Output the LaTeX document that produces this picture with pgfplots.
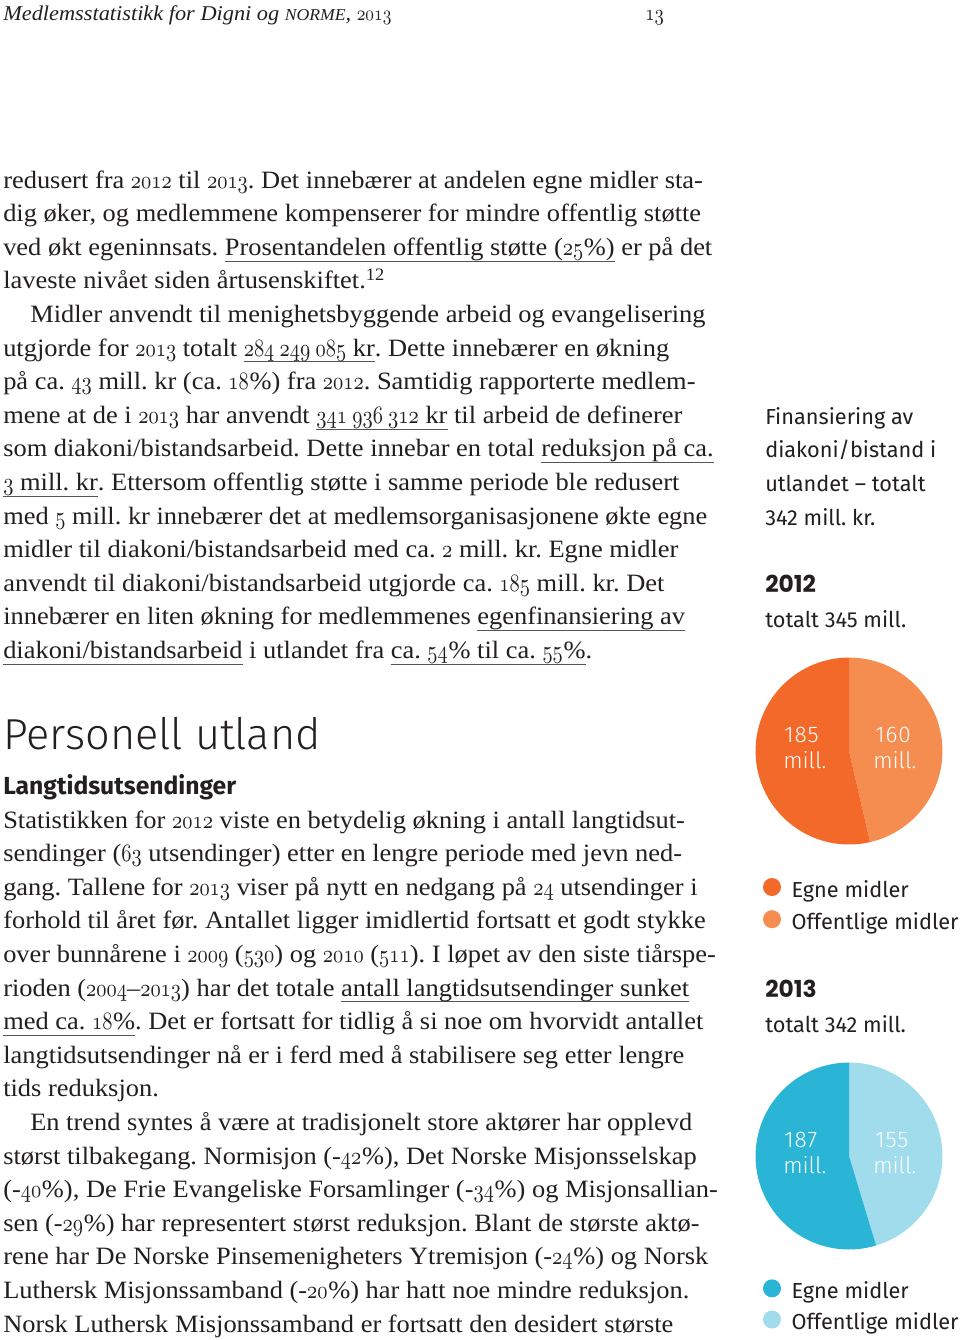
\documentclass[border=0pt]{standalone}
\usepackage{graphicx}
\usepackage{pgfplots}
\pgfplotsset{compat=1.18}
\usepackage{pgfplotstable}
\usepackage{fontspec}
\DeclareFontShape{OML}{cmm}{m}{it}{<->cmmi10}{}
\setmainfont{Liberation Serif}[FakeStretch=1.06]
\newfontfamily\sidefont{Fira Sans}
\newfontfamily\firalight{Fira Sans Light}
\newfontfamily\pop{Poppins}
\definecolor{txt}{HTML}{231F20}
\definecolor{egneA}{HTML}{F2692A}
\definecolor{offA}{HTML}{F58D51}
\definecolor{egneB}{HTML}{2AB4D5}
\definecolor{offB}{HTML}{A0DCEC}
\definecolor{ulgray}{HTML}{555555}
\frenchspacing
\newcommand\os[1]{\scalebox{0.82}[1]{\ensuremath{\mathnormal{#1}}}}
\newcommand\pc{\kern0.5pt\%}
\newcommand\ul[1]{\setbox0\hbox{#1}\leavevmode\rlap{\color{ulgray}\rule[-4.8pt]{\wd0}{0.7pt}}\box0\relax}
\newcommand\body{\fontsize{18.7}{21}\selectfont}
\newcommand\side{\sidefont\fontsize{16.3}{19}\selectfont}
\newcommand\pielab{\firalight\fontsize{17}{20}\selectfont}
\newcommand\pienum{\firalight\fontsize{17}{20}\selectfont\addfontfeature{LetterSpace=4}}

\pgfplotstableread{
year egne offentlige
2012 185 160
2013 187 155
}\fintable
\pgfplotstablegetelem{0}{egne}\of\fintable \edef\egneA{\pgfplotsretval}
\pgfplotstablegetelem{0}{offentlige}\of\fintable \edef\offA{\pgfplotsretval}
\pgfplotstablegetelem{1}{egne}\of\fintable \edef\egneB{\pgfplotsretval}
\pgfplotstablegetelem{1}{offentlige}\of\fintable \edef\offB{\pgfplotsretval}

\pgfplotsset{
  pieaxis/.style={x=1pt, y=1pt, xmin=-75, xmax=75, ymin=-75, ymax=75,
    hide axis, clip=false, anchor=origin,
    legend cell align=left,
    legend image code/.code={\fill[draw=none,##1] (0pt,2pt) circle[radius=6.75pt];},
    legend style={draw=none, fill=none, inner sep=0pt, outer sep=0pt,
      font=\side, text=txt, row sep=8.25pt, column sep=8pt,
      nodes={inner sep=0pt}}}
}

\begin{document}
\begin{tikzpicture}
\path[use as bounding box, fill=white] (0,0) rectangle (720pt,-1005pt);

% ---- pie 2012
\pgfmathsetmacro\angA{\offA/(\egneA+\offA)*360}
\begin{axis}[pieaxis, at={(636.75pt,-563.25pt)},
  legend style={at={(axis cs:-64.5,-95.25)}, anchor=north west}]
\fill[offA] (axis cs:0,0) -- (axis cs:0,70.1) arc[start angle=90, end angle={90-\angA}, radius=70.1pt] -- cycle;
\fill[egneA] (axis cs:0,0) -- (axis cs:{70.1*cos(90-\angA)},{70.1*sin(90-\angA)}) arc[start angle={90-\angA}, end angle=-270, radius=70.1pt] -- cycle;
\addlegendimage{fill=egneA}
\addlegendentry{Egne midler}
\addlegendimage{fill=offA}
\addlegendentry{Offentlige midler}
\end{axis}

% ---- pie 2013
\pgfmathsetmacro\angB{\offB/(\egneB+\offB)*360}
\begin{axis}[pieaxis, at={(636.75pt,-867pt)},
  legend style={at={(axis cs:-64.5,-92.5)}, anchor=north west, row sep=7.5pt}]
\fill[offB] (axis cs:0,0) -- (axis cs:0,70.1) arc[start angle=90, end angle={90-\angB}, radius=70.1pt] -- cycle;
\fill[egneB] (axis cs:0,0) -- (axis cs:{70.1*cos(90-\angB)},{70.1*sin(90-\angB)}) arc[start angle={90-\angB}, end angle=-270, radius=70.1pt] -- cycle;
\addlegendimage{fill=egneB}
\addlegendentry{Egne midler}
\addlegendimage{fill=offB}
\addlegendentry{Offentlige midler}
\end{axis}

\begin{scope}[x=0.75pt, y=-0.75pt, every node/.style={anchor=base west, inner sep=0pt, text=txt}]
% header
\node[font=\fontsize{15.8}{18}\selectfont] at (3,20) {\textit{Medlemsstatistikk for Digni og {\fontsize{12.5}{15}\selectfont NORME}, \os{2013}}};
\node[font=\fontsize{17}{20}\selectfont] at (645,20) {\os{13}};

% block 1
\node[font=\body] at (3,188) {redusert fra \os{2012} til \os{2013}. Det innebærer at andelen egne midler sta-};
\node[font=\body] at (3,221.6) {dig øker, og medlemmene kompenserer for mindre offentlig støtte};
\node[font=\body] at (3,255.2) {ved økt egeninnsats. \ul{Prosentandelen offentlig støtte (\os{25}\pc)} er på det};
\node[font=\body] at (3,288.8) {laveste nivået siden årtusenskiftet.\textsuperscript{12}};
\node[font=\body] at (30,322.4) {Midler anvendt til menighetsbyggende arbeid og evangelisering};
\node[font=\body] at (3,356) {utgjorde for \os{2013} totalt \ul{\os{284\;249\;085} kr}. Dette innebærer en økning};
\node[font=\body] at (3,389.6) {på ca. \os{43} mill. kr (ca. \os{18}\pc) fra \os{2012}. Samtidig rapporterte medlem-};
\node[font=\body] at (3,423.2) {mene at de i \os{2013} har anvendt \ul{\os{341\;936\;312} kr} til arbeid de definerer};
\node[font=\body] at (3,456.8) {som diakoni/bistandsarbeid. Dette innebar en total \ul{reduksjon på ca.}};
\node[font=\body] at (3,490.4) {\ul{\os{3} mill. kr}. Ettersom offentlig støtte i samme periode ble redusert};
\node[font=\body] at (3,524) {med \os{5} mill. kr innebærer det at medlemsorganisasjonene økte egne};
\node[font=\body] at (3,557.6) {midler til diakoni/bistandsarbeid med ca. \os{2} mill. kr. Egne midler};
\node[font=\body] at (3,591.2) {anvendt til diakoni/bistandsarbeid utgjorde ca. \os{185} mill. kr. Det};
\node[font=\body] at (3,624.8) {innebærer en liten økning for medlemmenes \ul{egenfinansiering av}};
\node[font=\body] at (3,658.4) {\ul{diakoni/bistandsarbeid} i utlandet fra \ul{ca. \os{54}\pc{} til ca. \os{55}\pc}.};

% headings
\node[font=\firalight\fontsize{32.5}{38}\selectfont] at (3,749) {Personell utland};
\node[font=\sidefont\bfseries\fontsize{18.5}{22}\selectfont] at (3,794) {Langtidsutsendinger};

% block 2
\node[font=\body] at (3,828) {Statistikken for \os{2012} viste en betydelig økning i antall langtidsut-};
\node[font=\body] at (3,861.6) {sendinger (\os{63} utsendinger) etter en lengre periode med jevn ned-};
\node[font=\body] at (3,895.2) {gang. Tallene for \os{2013} viser på nytt en nedgang på \os{24} utsendinger i};
\node[font=\body] at (3,928.8) {forhold til året før. Antallet ligger imidlertid fortsatt et godt stykke};
\node[font=\body] at (3,962.4) {over bunnårene i \os{2009} (\os{530}) og \os{2010} (\os{511}). I løpet av den siste tiårspe-};
\node[font=\body] at (3,996) {rioden (\os{2004}–\os{2013}) har det totale \ul{antall langtidsutsendinger sunket}};
\node[font=\body] at (3,1029.6) {\ul{med ca. \os{18}\pc}. Det er fortsatt for tidlig å si noe om hvorvidt antallet};
\node[font=\body] at (3,1063.2) {langtidsutsendinger nå er i ferd med å stabilisere seg etter lengre};
\node[font=\body] at (3,1096.8) {tids reduksjon.};
\node[font=\body] at (30,1130.4) {En trend syntes å være at tradisjonelt store aktører har opplevd};
\node[font=\body] at (3,1164) {størst tilbakegang. Normisjon (-\os{42}\pc), Det Norske Misjonsselskap};
\node[font=\body] at (3,1197.6) {(-\os{40}\pc), De Frie Evangeliske Forsamlinger (-\os{34}\pc) og Misjonsallian-};
\node[font=\body] at (3,1231.2) {sen (-\os{29}\pc) har representert størst reduksjon. Blant de største aktø-};
\node[font=\body] at (3,1264.8) {rene har De Norske Pinsemenigheters Ytremisjon (-\os{24}\pc) og Norsk};
\node[font=\body] at (3,1298.4) {Luthersk Misjonssamband (-\os{20}\pc) har hatt noe mindre reduksjon.};
\node[font=\body] at (3,1332) {Norsk Luthersk Misjonssamband er fortsatt den desidert største};

% side column
\node[font=\side] at (765,424) {Finansiering av};
\node[font=\side] at (765,457.5) {diakoni/bistand i};
\node[font=\side] at (765,491) {utlandet – totalt};
\node[font=\side] at (765,525) {342 mill. kr.};
\node[font=\pop\bfseries\fontsize{17.5}{20}\selectfont] at (765,592) {2012};
\node[font=\side] at (765,627) {totalt 345 mill.};
\node[font=\pop\bfseries\fontsize{17.5}{20}\selectfont] at (765,997) {2013};
\node[font=\side] at (765,1032) {totalt 342 mill.};

% pie labels
\node[font=\pienum, text=white] at (784,742) {185};
\node[font=\pielab, text=white] at (783,768) {mill.};
\node[font=\pienum, text=white] at (875,742) {160};
\node[font=\pielab, text=white] at (873,768) {mill.};
\node[font=\pienum, text=white] at (784,1147) {187};
\node[font=\pielab, text=white] at (783,1173) {mill.};
\node[font=\pienum, text=white] at (875,1147) {155};
\node[font=\pielab, text=white] at (873,1173) {mill.};
\end{scope}
\end{tikzpicture}
\end{document}
